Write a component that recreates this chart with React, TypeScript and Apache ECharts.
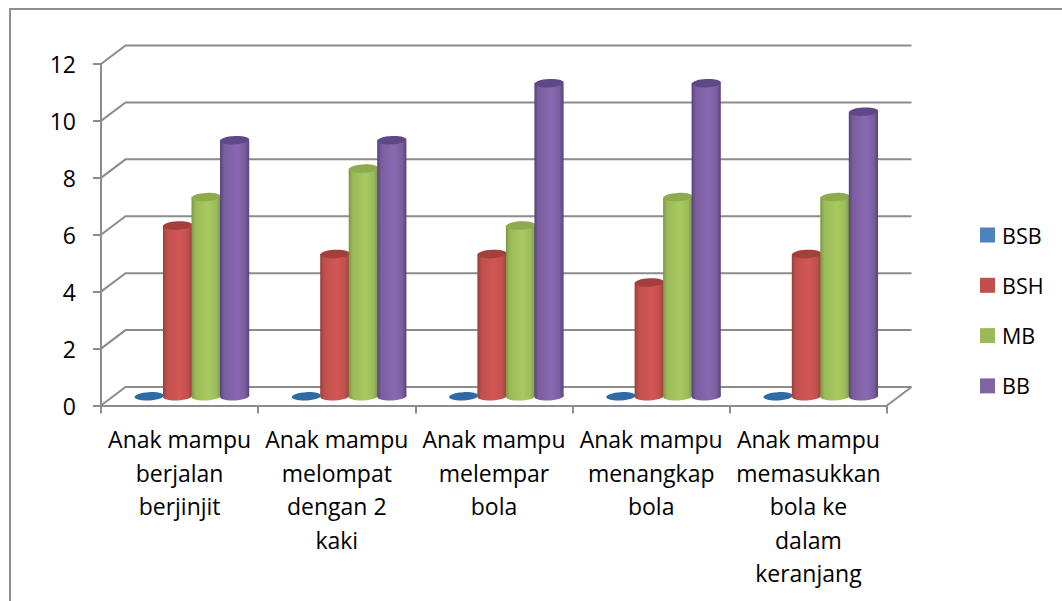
import React, { useEffect, useRef } from "react";
import * as echarts from "echarts";

const categories = [
  "Anak mampu\nberjalan\nberjinjit",
  "Anak mampu\nmelompat\ndengan 2\nkaki",
  "Anak mampu\nmelempar\nbola",
  "Anak mampu\nmenangkap\nbola",
  "Anak mampu\nmemasukkan\nbola ke\ndalam\nkeranjang",
];
const seriesNames = ["BSB", "BSH", "MB", "BB"];
const bsb = [0, 0, 0, 0, 0];
const bsh = [6, 5, 5, 4, 5];
const mb = [7, 8, 6, 7, 7];
const bb = [9, 9, 11, 11, 10];
const seriesValues = [bsb, bsh, mb, bb];
const wallTicks = [0, 2, 4, 6, 8, 10, 12];

const legendColors = ["#4F81BD", "#C0504D", "#9BBB59", "#8064A2"];
const edgeColors = ["#2A5F96", "#96403C", "#7C9644", "#57427C"];
const baseColors = ["#3F75B0", "#C0504D", "#9BBB59", "#7A5E9E"];
const lightColors = ["#4F81BD", "#D25654", "#A9C961", "#8A68B2"];
const topColors = ["#2E6BA6", "#A53F3C", "#8EAC4E", "#5E4986"];

const lineGray = "#8C8C8C";
const fontFamily = "'Open Sans', Lato, sans-serif";
const depthX = 24.5;
const depthY = -18.5;
const stepRatio = 28.5 / 157.2;
const radiusX = 14.6;
const radiusY = 4.2;

function wallRender(params: any, api: any) {
  const rect = params.coordSys;
  const y = api.coord([0, api.value(1)])[1];
  return {
    type: "polyline",
    silent: true,
    shape: {
      points: [
        [rect.x, y],
        [rect.x + depthX, y + depthY],
        [rect.x + rect.width + depthX, y + depthY],
      ],
    },
    style: { fill: "none", stroke: lineGray, lineWidth: 2 },
  };
}

function floorRender(params: any, api: any) {
  const rect = params.coordSys;
  const y = api.coord([0, 0])[1];
  return {
    type: "line",
    silent: true,
    shape: {
      x1: rect.x + rect.width,
      y1: y,
      x2: rect.x + rect.width + depthX,
      y2: y + depthY,
    },
    style: { stroke: lineGray, lineWidth: 2 },
  };
}

function cylinderRender(index: number) {
  return (_params: any, api: any) => {
    const base = api.coord([api.value(0), 0]);
    const top = api.coord([api.value(0), api.value(1)]);
    const band = api.size([1, 0])[0];
    const cx = base[0] + depthX / 2 + (index - 1.5) * band * stepRatio;
    const yBottom = base[1] + depthY / 2;
    const yTop = top[1] + depthY / 2;
    const fill = new echarts.graphic.LinearGradient(0, 0, 1, 0, [
      { offset: 0, color: edgeColors[index] },
      { offset: 0.14, color: baseColors[index] },
      { offset: 0.58, color: lightColors[index] },
      { offset: 0.86, color: baseColors[index] },
      { offset: 1, color: edgeColors[index] },
    ]);
    const tilt = 0.05;
    const children: any[] = [];
    if (yBottom - yTop > 0.5) {
      children.push({
        type: "ellipse",
        silent: true,
        shape: { cx, cy: yBottom, rx: radiusX, ry: radiusY },
        rotation: tilt,
        originX: cx,
        originY: yBottom,
        style: { fill },
      });
      children.push({
        type: "rect",
        silent: true,
        shape: { x: cx - radiusX, y: yTop, width: radiusX * 2, height: yBottom - yTop },
        style: { fill },
      });
    }
    children.push({
      type: "ellipse",
      silent: true,
      shape: { cx, cy: yTop, rx: radiusX, ry: radiusY },
      rotation: tilt,
      originX: cx,
      originY: yTop,
      style: { fill: topColors[index] },
    });
    return { type: "group", children };
  };
}

export default function App() {
  const ref = useRef<HTMLDivElement>(null);

  useEffect(() => {
    if (!ref.current) return;
    const chart = echarts.init(ref.current, undefined, { renderer: "svg" });
    chart.setOption({
      animation: false,
      backgroundColor: "#ffffff",
      textStyle: { fontFamily },
      graphic: [
        {
          type: "polyline",
          silent: true,
          z: 0,
          shape: { points: [[10, 601], [10, 9], [1062, 9]] },
          style: { fill: "none", stroke: "#8E8E8E", lineWidth: 2 },
        },
      ],
      grid: { left: 101, right: 175, top: 64, height: 341.5, containLabel: false },
      legend: {
        data: seriesNames,
        orient: "vertical",
        left: 975,
        top: 219,
        icon: "rect",
        itemWidth: 15,
        itemHeight: 15,
        itemGap: 28.3,
        textStyle: { fontFamily, fontSize: 21.5, color: "#000000", lineHeight: 20, padding: [0, 0, 0, 2] },
        selectedMode: false,
      },
      xAxis: {
        type: "category",
        data: categories,
        boundaryGap: true,
        axisLine: { show: true, lineStyle: { color: lineGray, width: 2 } },
        axisTick: { show: true, length: 8, alignWithLabel: false, lineStyle: { color: lineGray, width: 2 } },
        axisLabel: {
          interval: 0,
          color: "#000000",
          fontFamily,
          fontSize: 23,
          lineHeight: 33.5,
          margin: 17,
          hideOverlap: false,
        },
        splitLine: { show: false },
      },
      yAxis: {
        type: "value",
        min: 0,
        max: 12,
        interval: 2,
        axisLine: { show: true, lineStyle: { color: lineGray, width: 2 } },
        axisTick: { show: true, length: 8, lineStyle: { color: lineGray, width: 2 } },
        axisLabel: { color: "#000000", fontFamily, fontSize: 23, margin: 25 },
        splitLine: { show: false },
      },
      series: [
        {
          type: "custom",
          name: "walls",
          z: 1,
          clip: false,
          silent: true,
          renderItem: wallRender,
          data: wallTicks.map((v) => [0, v]),
          encode: { x: 0, y: 1 },
        },
        {
          type: "custom",
          name: "floor",
          z: 1,
          clip: false,
          silent: true,
          renderItem: floorRender,
          data: [[0, 0]],
          encode: { x: 0, y: 1 },
        },
        ...seriesNames.map((name, i) => ({
          type: "custom",
          name,
          z: 5 + i,
          clip: false,
          silent: true,
          itemStyle: { color: legendColors[i] },
          renderItem: cylinderRender(i),
          data: seriesValues[i].map((v, c) => [c, v]),
          encode: { x: 0, y: 1 },
        })),
      ],
    });
    return () => chart.dispose();
  }, []);

  return (
    <div
      ref={ref}
      style={{ position: "fixed", left: 0, top: 0, width: 1062, height: 601, background: "#fff" }}
    />
  );
}
